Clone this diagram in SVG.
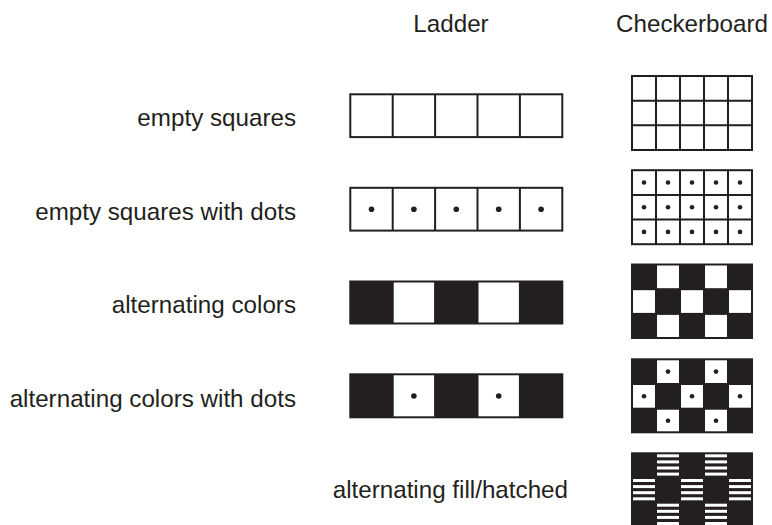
<svg xmlns="http://www.w3.org/2000/svg" width="772" height="525" viewBox="0 0 772 525">
<style>
text{font-family:"Liberation Sans",Arial,sans-serif;font-size:24.2px;fill:#231f20}
.lab{text-anchor:end}
.g{fill:none;stroke:#231f20;stroke-width:2}
.blk{fill:#231f20;stroke:#231f20;stroke-width:2}
.w{fill:#fff}
.d{fill:#231f20}
</style>
<rect width="772" height="525" fill="#fff"/>
<g id="headers">
<text x="451" y="32" text-anchor="middle">Ladder</text>
<text x="692" y="32" text-anchor="middle" font-size="23.6">Checkerboard</text>
</g>
<g id="labels">
<text class="lab" x="296" y="126">empty squares</text>
<text class="lab" x="296" y="219.5">empty squares with dots</text>
<text class="lab" x="296" y="313">alternating colors</text>
<text class="lab" x="296" y="407">alternating colors with dots</text>
<text class="lab" x="568" y="498">alternating fill/hatched</text>
</g>
<g id="ladder-empty">
<rect class="g" x="350.3" y="94.3" width="212" height="42.8"/>
<path class="g" d="M392.7 94.3V137.1M435.1 94.3V137.1M477.5 94.3V137.1M519.9 94.3V137.1"/>
</g>
<g id="ladder-dots">
<rect class="g" x="350.3" y="187.8" width="212" height="42.8"/>
<path class="g" d="M392.7 187.8V230.6M435.1 187.8V230.6M477.5 187.8V230.6M519.9 187.8V230.6"/>
<circle class="d" cx="371.5" cy="209.2" r="2.8"/><circle class="d" cx="413.9" cy="209.2" r="2.8"/><circle class="d" cx="456.3" cy="209.2" r="2.8"/><circle class="d" cx="498.7" cy="209.2" r="2.8"/><circle class="d" cx="541.1" cy="209.2" r="2.8"/>
</g>
<g id="ladder-alt">
<rect class="blk" x="350.3" y="281.5" width="212" height="42"/>
<rect class="w" x="393.7" y="282.5" width="40.4" height="40"/>
<rect class="w" x="478.5" y="282.5" width="40.4" height="40"/>
</g>
<g id="ladder-alt-dots">
<rect class="blk" x="350.3" y="374.3" width="212" height="43"/>
<rect class="w" x="393.7" y="375.3" width="40.4" height="41"/>
<rect class="w" x="478.5" y="375.3" width="40.4" height="41"/>
<circle class="d" cx="413.9" cy="396" r="2.8"/><circle class="d" cx="498.7" cy="396" r="2.8"/>
</g>
<g id="checker-empty">
<rect class="g" x="632" y="76" width="120" height="74"/>
<path class="g" d="M656 76V150M680 76V150M704 76V150M728 76V150M632 100.7H752M632 125.3H752"/>
</g>
<g id="checker-dots">
<rect class="g" x="632" y="170.2" width="120" height="74"/>
<path class="g" d="M656 170.2V244.2M680 170.2V244.2M704 170.2V244.2M728 170.2V244.2M632 194.9H752M632 219.5H752"/>
<g class="d">
<circle cx="644" cy="182.5" r="2.3"/><circle cx="668" cy="182.5" r="2.3"/><circle cx="692" cy="182.5" r="2.3"/><circle cx="716" cy="182.5" r="2.3"/><circle cx="740" cy="182.5" r="2.3"/>
<circle cx="644" cy="207.2" r="2.3"/><circle cx="668" cy="207.2" r="2.3"/><circle cx="692" cy="207.2" r="2.3"/><circle cx="716" cy="207.2" r="2.3"/><circle cx="740" cy="207.2" r="2.3"/>
<circle cx="644" cy="231.9" r="2.3"/><circle cx="668" cy="231.9" r="2.3"/><circle cx="692" cy="231.9" r="2.3"/><circle cx="716" cy="231.9" r="2.3"/><circle cx="740" cy="231.9" r="2.3"/>
</g>
</g>
<g id="checker-alt">
<rect class="blk" x="632" y="264.5" width="120" height="73.5"/>
<rect class="w" x="657" y="265.5" width="22" height="22.7"/>
<rect class="w" x="705" y="265.5" width="22" height="22.7"/>
<rect class="w" x="633" y="290.2" width="22" height="22.7"/>
<rect class="w" x="681" y="290.2" width="22" height="22.7"/>
<rect class="w" x="729" y="290.2" width="22" height="22.7"/>
<rect class="w" x="657" y="314.9" width="22" height="22.1"/>
<rect class="w" x="705" y="314.9" width="22" height="22.1"/>
</g>
<g id="checker-alt-dots">
<rect class="blk" x="632" y="359.3" width="120" height="73"/>
<rect class="w" x="657" y="360.3" width="22" height="22.7"/>
<rect class="w" x="705" y="360.3" width="22" height="22.7"/>
<rect class="w" x="633" y="385" width="22" height="22.7"/>
<rect class="w" x="681" y="385" width="22" height="22.7"/>
<rect class="w" x="729" y="385" width="22" height="22.7"/>
<rect class="w" x="657" y="409.7" width="22" height="21.6"/>
<rect class="w" x="705" y="409.7" width="22" height="21.6"/>
<g class="d">
<circle cx="668" cy="371.6" r="2.3"/><circle cx="716" cy="371.6" r="2.3"/>
<circle cx="644" cy="396.3" r="2.3"/><circle cx="692" cy="396.3" r="2.3"/><circle cx="740" cy="396.3" r="2.3"/>
<circle cx="668" cy="420.8" r="2.3"/><circle cx="716" cy="420.8" r="2.3"/>
</g>
</g>
<defs>
<g id="hatch">
<rect class="w" x="0" y="1" width="22" height="3"/>
<rect class="w" x="0" y="7.1" width="22" height="3"/>
<rect class="w" x="0" y="13.2" width="22" height="3"/>
<rect class="w" x="0" y="19.3" width="22" height="3"/>
</g>
</defs>
<g id="checker-hatched">
<rect class="blk" x="632" y="453.3" width="120" height="74"/>
<use href="#hatch" x="657" y="453.3"/>
<use href="#hatch" x="705" y="453.3"/>
<use href="#hatch" x="633" y="478"/>
<use href="#hatch" x="681" y="478"/>
<use href="#hatch" x="729" y="478"/>
<use href="#hatch" x="657" y="502.7"/>
<use href="#hatch" x="705" y="502.7"/>
</g>
</svg>
